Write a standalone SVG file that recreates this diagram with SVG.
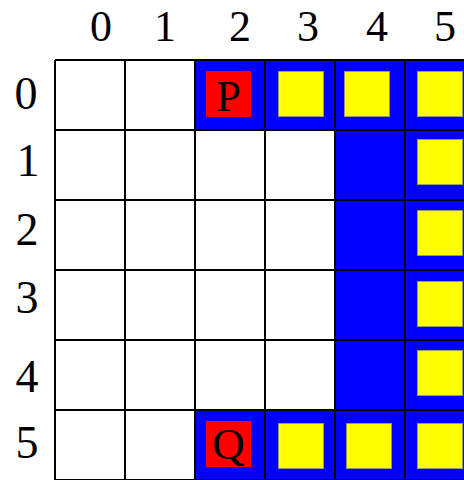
<svg xmlns="http://www.w3.org/2000/svg" width="464" height="480" viewBox="0 0 464 480">
  <style>
    .lbl { font-family: "Liberation Serif", "Times New Roman", serif; font-size: 46px; fill: #000; text-anchor: middle; }
    .col { font-size: 44px; }
    .pl { font-family: "Liberation Serif", "Times New Roman", serif; font-size: 45px; fill: #000; text-anchor: middle; }
    .blue { fill: #0000ff; }
    .yel { fill: #ffff00; stroke: #999966; stroke-width: 1; }
    .red { fill: #ff0000; }
    .grid { stroke: #000; stroke-width: 2; fill: none; }
  </style>
  <rect x="0" y="0" width="464" height="480" fill="#fff"/>
  <g id="col-labels">
    <text class="lbl col" x="101" y="40.5">0</text>
    <text class="lbl col" x="165" y="40.5">1</text>
    <text class="lbl col" x="240" y="40.5">2</text>
    <text class="lbl col" x="308" y="40.5">3</text>
    <text class="lbl col" x="377" y="40.5">4</text>
    <text class="lbl col" x="445" y="40.5">5</text>
  </g>
  <g id="row-labels">
    <text class="lbl" x="26" y="109">0</text>
    <text class="lbl" x="28" y="176">1</text>
    <text class="lbl" x="27" y="245">2</text>
    <text class="lbl" x="27" y="313">3</text>
    <text class="lbl" x="27" y="392">4</text>
    <text class="lbl" x="27" y="458">5</text>
  </g>
  <g id="blue-cells">
    <rect class="blue" x="195" y="60" width="280" height="70"/>
    <rect class="blue" x="335" y="130" width="140" height="280"/>
    <rect class="blue" x="195" y="410" width="280" height="70"/>
  </g>
  <g id="grid">
    <path class="grid" d="M55 60H475M55 130H475M55 200H475M55 270H475M55 340H475M55 410H475M55 480H475M55 60V480M125 60V480M195 60V480M265 60V480M335 60V480M405 60V480"/>
  </g>
  <g id="piece-P">
    <rect class="red" x="206" y="71" width="45" height="46"/>
    <text class="pl" x="228.5" y="111">P</text>
  </g>
  <g id="piece-Q">
    <rect class="red" x="206" y="421" width="45" height="46"/>
    <text class="pl" x="228.5" y="459">Q</text>
  </g>
  <g id="yellow-pieces">
    <rect class="yel" x="278.5" y="71.5" width="45" height="45"/>
    <rect class="yel" x="344.5" y="71.5" width="45" height="45"/>
    <rect class="yel" x="417.5" y="71.5" width="45" height="45"/>
    <rect class="yel" x="417.5" y="139.5" width="45" height="45"/>
    <rect class="yel" x="417.5" y="210.5" width="45" height="45"/>
    <rect class="yel" x="417.5" y="281.5" width="45" height="45"/>
    <rect class="yel" x="417.5" y="350.5" width="45" height="45"/>
    <rect class="yel" x="278.5" y="423.5" width="45" height="45"/>
    <rect class="yel" x="346.5" y="423.5" width="45" height="45"/>
    <rect class="yel" x="417.5" y="423.5" width="45" height="45"/>
  </g>
</svg>
